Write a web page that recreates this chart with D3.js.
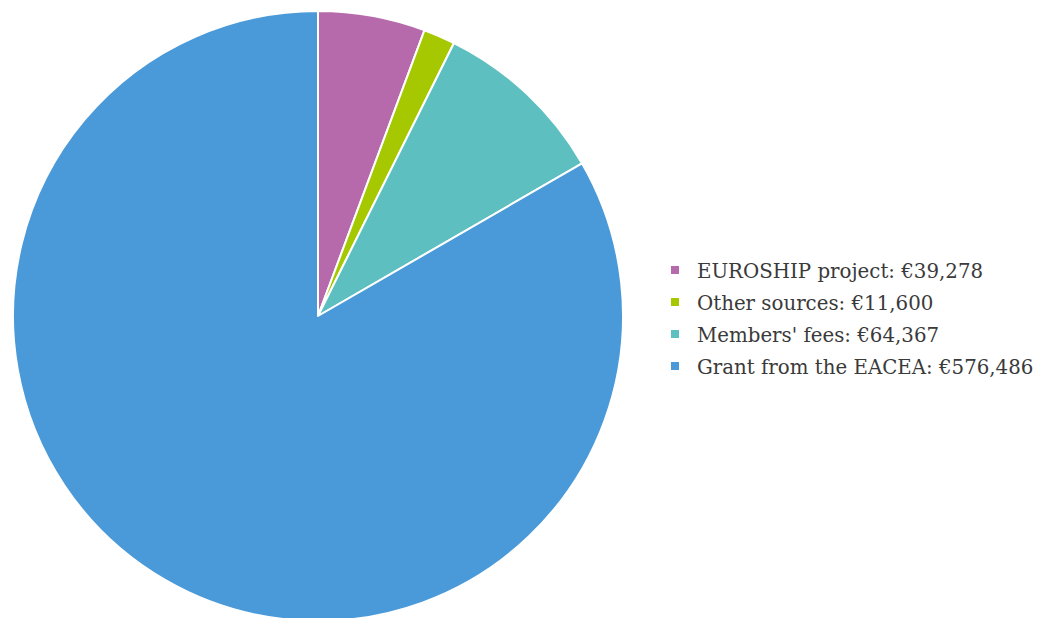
<!DOCTYPE html>
<html><head><meta charset="utf-8">
<script src="https://cdn.jsdelivr.net/npm/d3@7"></script>
<style>html,body{margin:0;padding:0;background:#fff;overflow:hidden}</style>
</head><body>
<svg id="c" width="1049" height="618"></svg>
<script>
const categories = ["EUROSHIP project", "Other sources", "Members' fees", "Grant from the EACEA"];
const values = [39278, 11600, 64367, 576486];
const colors = ["#b66aab", "#a6c801", "#5ebfc1", "#4a99d8"];

const svg = d3.select("#c");
const cx = 318, cy = 316, r = 305;
const pie = d3.pie().sort(null).value(d => d);
const arc = d3.arc().innerRadius(0).outerRadius(r);
const g = svg.append("g").attr("transform", `translate(${cx},${cy})`);
g.selectAll("path").data(pie(values)).join("path")
  .attr("d", arc).attr("fill", (d, i) => colors[i])
  .attr("stroke", "#fff").attr("stroke-width", 2).attr("stroke-linejoin", "round");

const fmt = d3.format(",");
const leg = svg.append("g").attr("transform", "translate(671,270)");
const rows = leg.selectAll("g").data(categories).join("g")
  .attr("transform", (d, i) => `translate(0,${i * 32})`);
rows.append("rect").attr("x", 0).attr("y", -4).attr("width", 8).attr("height", 8)
  .attr("fill", (d, i) => colors[i]);
rows.append("text").attr("x", 26).attr("y", 1).attr("dy", "0.35em")
  .attr("font-family", "DejaVu Serif").attr("font-size", 19.8).attr("fill", "#3a3a3a")
  .text((d, i) => `${d}: €${fmt(values[i])}`);
</script>
</body></html>
